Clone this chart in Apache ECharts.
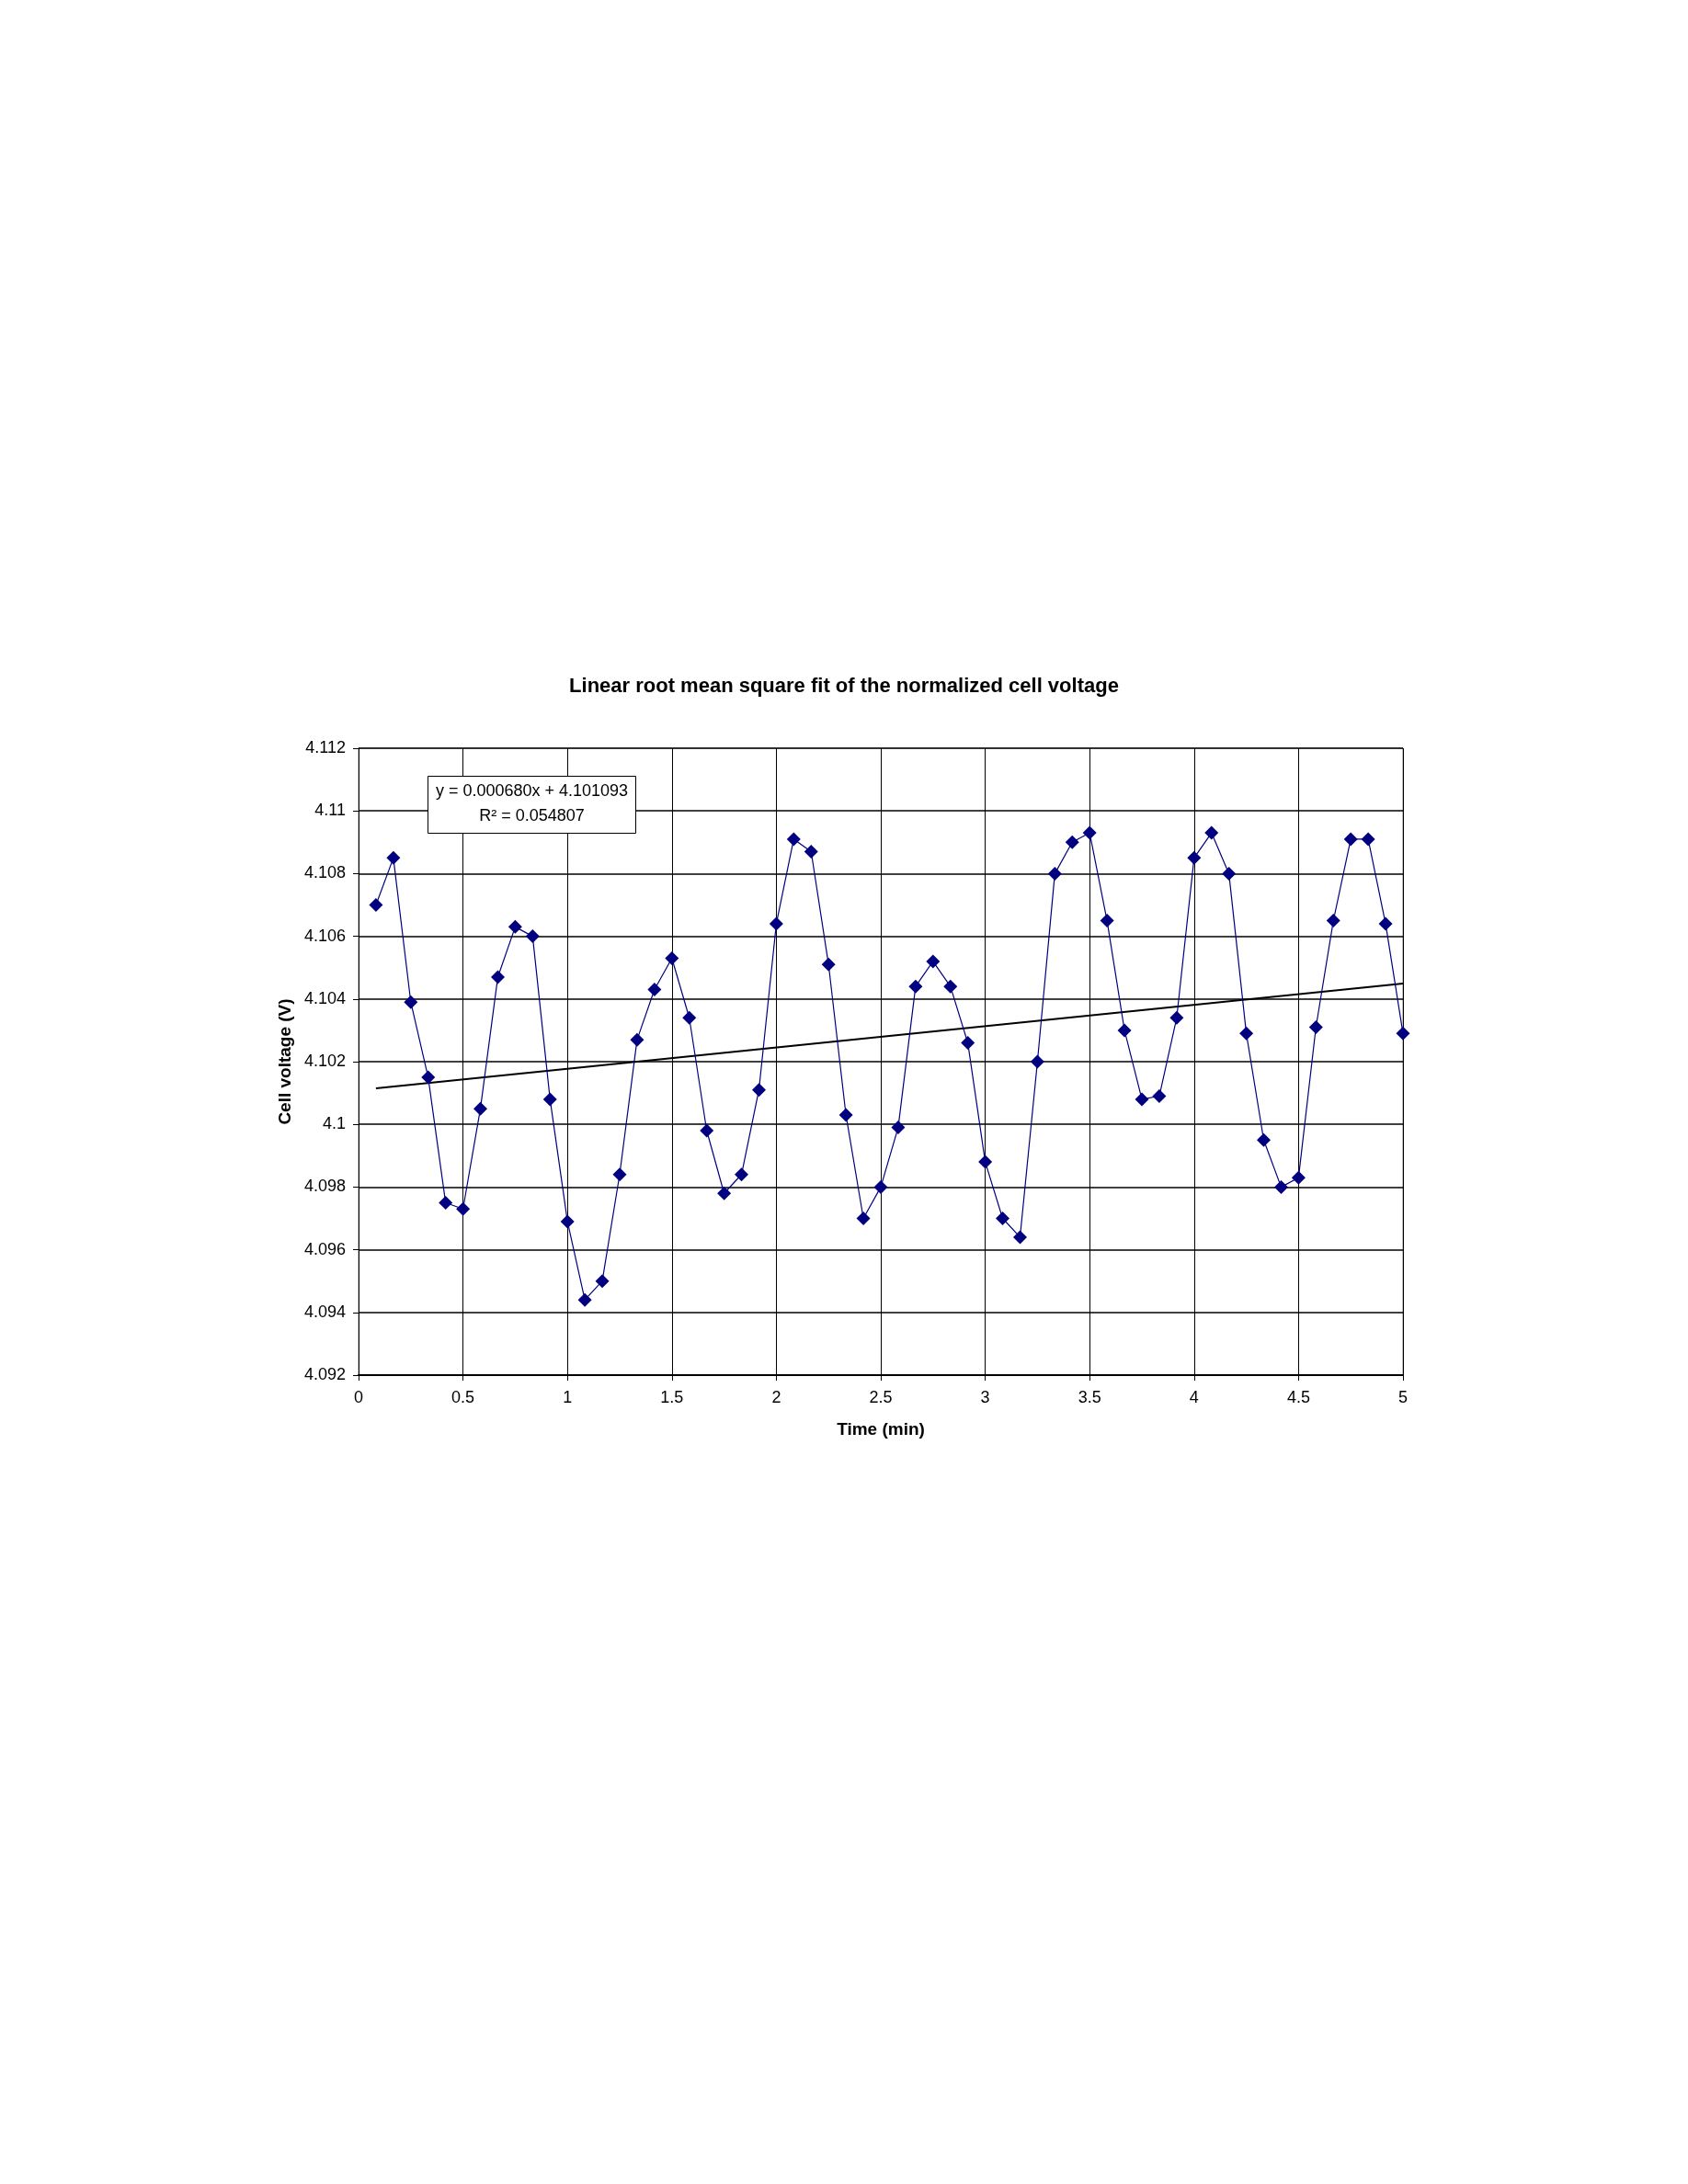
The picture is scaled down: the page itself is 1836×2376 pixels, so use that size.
<!DOCTYPE html>
<html>
<head>
<meta charset="utf-8">
<script src="https://cdn.jsdelivr.net/npm/echarts@6/dist/echarts.min.js"></script>
<style>
html,body{margin:0;padding:0;background:#fff;}
#chart{width:1836px;height:2376px;}
</style>
</head>
<body>
<div id="chart"></div>
<script>
// Time in minutes (one sample every 5 s)
const timeMin = [
  0.0833,0.1667,0.25,0.3333,0.4167,0.5,0.5833,0.6667,0.75,0.8333,
  0.9167,1.0,1.0833,1.1667,1.25,1.3333,1.4167,1.5,1.5833,1.6667,
  1.75,1.8333,1.9167,2.0,2.0833,2.1667,2.25,2.3333,2.4167,2.5,
  2.5833,2.6667,2.75,2.8333,2.9167,3.0,3.0833,3.1667,3.25,3.3333,
  3.4167,3.5,3.5833,3.6667,3.75,3.8333,3.9167,4.0,4.0833,4.1667,
  4.25,4.3333,4.4167,4.5,4.5833,4.6667,4.75,4.8333,4.9167,5.0
];
// Cell voltage (V)
const cellVoltage = [
  4.1070,4.1085,4.1039,4.1015,4.0975,4.0973,4.1005,4.1047,4.1063,4.1060,
  4.1008,4.0969,4.0944,4.0950,4.0984,4.1027,4.1043,4.1053,4.1034,4.0998,
  4.0978,4.0984,4.1011,4.1064,4.1091,4.1087,4.1051,4.1003,4.0970,4.0980,
  4.0999,4.1044,4.1052,4.1044,4.1026,4.0988,4.0970,4.0964,4.1020,4.1080,
  4.1090,4.1093,4.1065,4.1030,4.1008,4.1009,4.1034,4.1085,4.1093,4.1080,
  4.1029,4.0995,4.0980,4.0983,4.1031,4.1065,4.1091,4.1091,4.1064,4.1029
];
// Linear fit shown on the chart
const fitSlope = 0.000680;
const fitIntercept = 4.101093;
const fitX = [0.0833, 5.0];
const fitLabel = ['y = 0.000680x + 4.101093', 'R\u00b2 = 0.054807'];
const titleText = 'Linear root mean square fit of the normalized cell voltage';
const xName = 'Time (min)';
const yName = 'Cell voltage (V)';

const seriesData = timeMin.map((t, i) => [t, cellVoltage[i]]);
const fitData = fitX.map(x => [x, fitIntercept + fitSlope * x]);

const chart = echarts.init(document.getElementById('chart'), null, {renderer: 'canvas'});
const FONT = '"Liberation Sans", Arial, sans-serif';

chart.setOption({
  backgroundColor: '#ffffff',
  animation: false,
  title: {
    text: titleText,
    left: 'center',
    top: 731,
    textStyle: {fontFamily: FONT, fontSize: 22, fontWeight: 'bold', color: '#000'}
  },
  grid: {left: 390, right: 310, top: 814, bottom: 880, show: true, borderColor: '#808080', borderWidth: 1},
  xAxis: {
    type: 'value', min: 0, max: 5, interval: 0.5,
    name: xName, nameLocation: 'middle', nameGap: 50,
    nameTextStyle: {fontFamily: FONT, fontSize: 19, fontWeight: 'bold', color: '#000'},
    axisLine: {lineStyle: {color: '#000', width: 2}},
    axisTick: {show: true, inside: false, length: 6, lineStyle: {color: '#000'}},
    axisLabel: {fontFamily: FONT, fontSize: 18, color: '#000', margin: 16},
    splitLine: {show: true, lineStyle: {color: '#000', width: 1}}
  },
  yAxis: {
    type: 'value', min: 4.092, max: 4.112, interval: 0.002,
    name: yName, nameLocation: 'middle', nameGap: 70, nameRotate: 90,
    nameTextStyle: {fontFamily: FONT, fontSize: 19, fontWeight: 'bold', color: '#000'},
    axisLine: {show: true, lineStyle: {color: '#000', width: 1}},
    axisTick: {show: true, inside: false, length: 6, lineStyle: {color: '#000'}},
    axisLabel: {fontFamily: FONT, fontSize: 18, color: '#000', margin: 14},
    splitLine: {show: true, lineStyle: {color: '#000', width: 1.5}}
  },
  series: [
    {
      type: 'line', data: seriesData, smooth: false,
      symbol: 'diamond', symbolSize: 15,
      lineStyle: {color: '#000080', width: 1.2},
      itemStyle: {color: '#000080'},
      z: 3
    },
    {
      type: 'line', data: fitData, symbol: 'none',
      lineStyle: {color: '#000', width: 2.2},
      z: 2
    }
  ],
  graphic: [
    {
      type: 'group', left: 465, top: 844, z: 100,
      children: [
        {type: 'rect', z: 100, shape: {x: 0, y: 0, width: 226, height: 62},
         style: {fill: '#fff', stroke: '#000', lineWidth: 1}},
        {type: 'text', z: 101, x: 113, y: 17,
         style: {text: fitLabel[0], font: '18px ' + FONT, fill: '#000', align: 'center', verticalAlign: 'middle'}},
        {type: 'text', z: 101, x: 113, y: 44,
         style: {text: fitLabel[1], font: '18px ' + FONT, fill: '#000', align: 'center', verticalAlign: 'middle'}}
      ]
    }
  ]
});
</script>
</body>
</html>
